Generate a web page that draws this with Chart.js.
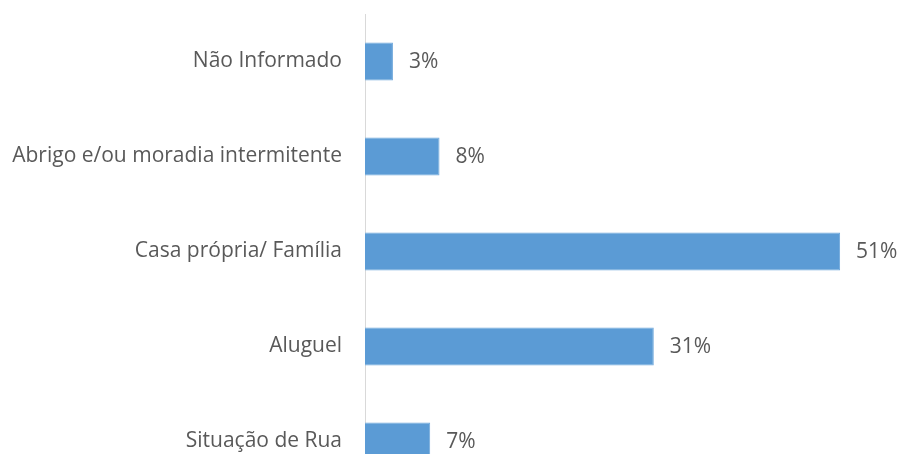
<!DOCTYPE html>
<html>
<head>
<meta charset="utf-8">
<script src="https://cdn.jsdelivr.net/npm/chart.js@4/dist/chart.umd.min.js"></script>
<style>
    html, body { margin: 0; padding: 0; background: #fff; overflow: hidden; }
    #wrap { width: 901px; height: 500px; }
</style>
</head>
<body>
<div id="wrap"><canvas id="chart"></canvas></div>
<script>
// Dados
const categorias = ['Não Informado', 'Abrigo e/ou moradia intermitente', 'Casa própria/ Família', 'Aluguel', 'Situação de Rua'];
const percentuais = [3, 8, 51, 31, 7];
const rotulos = ['3%', '8%', '51%', '31%', '7%'];

// Plugin simples para escrever o valor ao lado de cada barra
const valorPlugin = {
    id: 'valorPlugin',
    afterDatasetsDraw(chart) {
        const ctx = chart.ctx;
        const meta = chart.getDatasetMeta(0);
        ctx.save();
        ctx.font = '21px "Open Sans", sans-serif';
        ctx.fillStyle = '#595959';
        ctx.textAlign = 'left';
        ctx.textBaseline = 'middle';
        meta.data.forEach((bar, i) => {
            ctx.fillText(rotulos[i], bar.x + 16, bar.y + 1);
        });
        ctx.restore();
    }
};

new Chart(document.getElementById('chart'), {
    type: 'bar',
    data: {
        labels: categorias,
        datasets: [{
            data: percentuais,
            backgroundColor: '#5B9BD5',
            borderColor: '#6FA8DC',
            borderWidth: 1,
            borderSkipped: 'start',
            categoryPercentage: 1,
            barPercentage: 0.4
        }]
    },
    options: {
        indexAxis: 'y',
        responsive: true,
        maintainAspectRatio: false,
        animation: false,
        layout: { padding: { top: 14, bottom: 11, left: 0, right: 5 } },
        plugins: {
            legend: { display: false },
            tooltip: { enabled: false }
        },
        scales: {
            x: {
                display: false,
                min: 0,
                max: 57
            },
            y: {
                afterFit: (scale) => {
                    scale.width = 365;
                    scale.paddingTop = 0;
                    scale.paddingBottom = 0;
                },
                grid: { display: false, drawTicks: false },
                border: { display: true, color: '#d9d9d9', width: 1 },
                ticks: {
                    padding: 23,
                    color: '#595959',
                    font: { family: '"Open Sans", sans-serif', size: 21 }
                }
            }
        }
    },
    plugins: [valorPlugin]
});
</script>
</body>
</html>
